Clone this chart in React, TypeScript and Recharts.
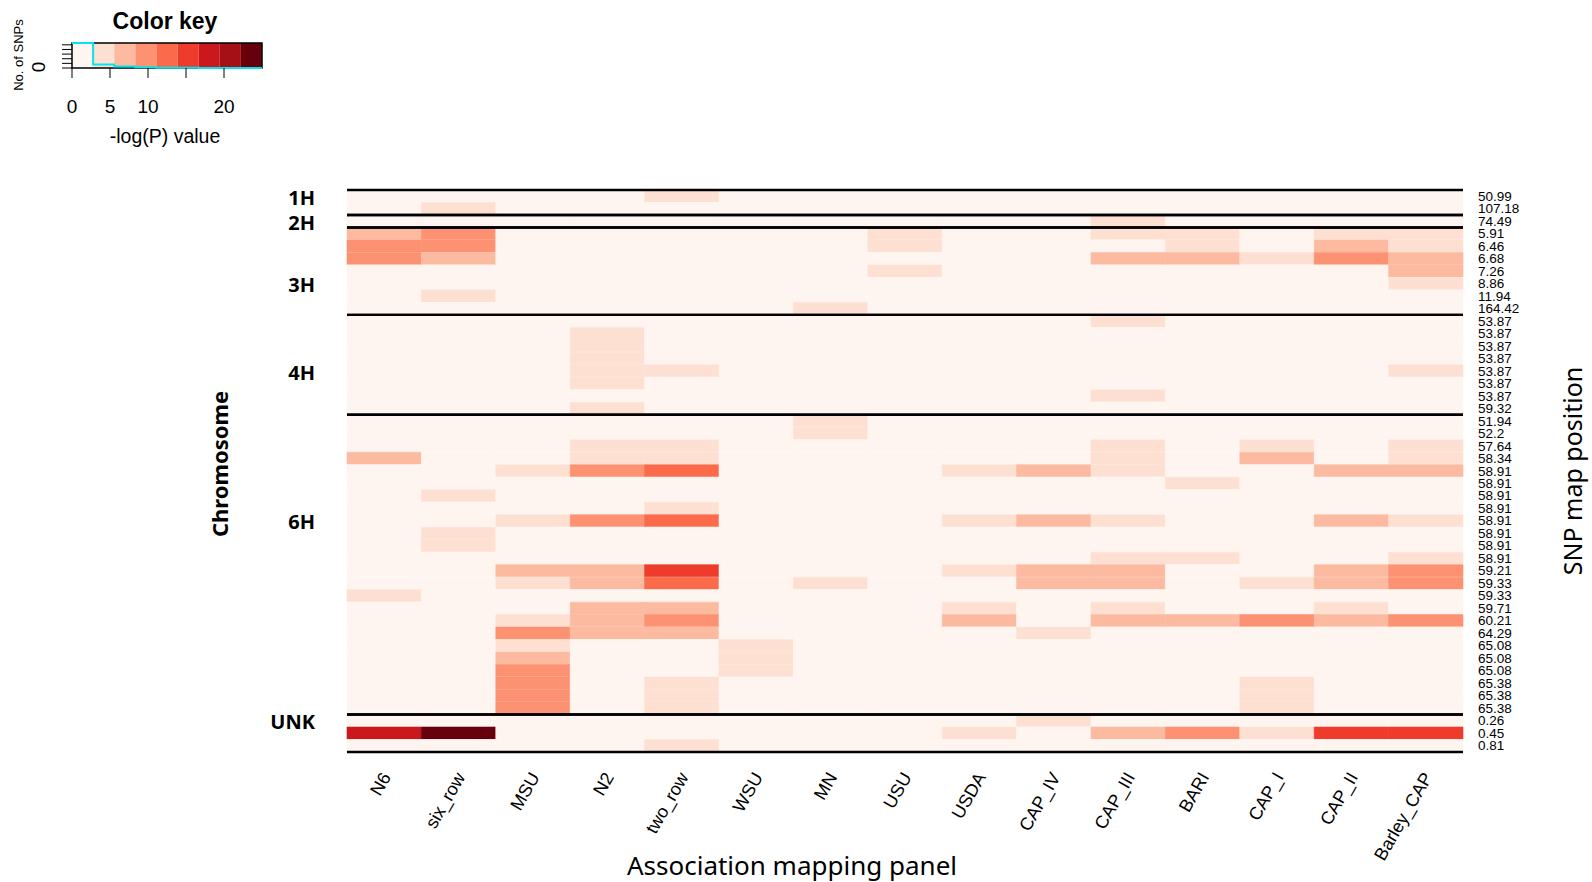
import React from "react";
import { Bar, BarChart, Cell, ComposedChart, Line, ReferenceArea, XAxis, YAxis } from "recharts";

const W = 1592;
const H = 882;

// association mapping panels, left to right
const panelNames = ["N6", "six_row", "MSU", "N2", "two_row", "WSU", "MN", "USU", "USDA", "CAP_IV", "CAP_III", "BARI", "CAP_I", "CAP_II", "Barley_CAP"];

// SNP map positions, top to bottom
const snpPositions = [
  "50.99", "107.18",
  "74.49",
  "5.91", "6.46", "6.68", "7.26", "8.86", "11.94", "164.42",
  "53.87", "53.87", "53.87", "53.87", "53.87", "53.87", "53.87", "59.32",
  "51.94", "52.2", "57.64", "58.34", "58.91", "58.91", "58.91", "58.91", "58.91", "58.91", "58.91", "58.91",
  "59.21", "59.33", "59.33", "59.71", "60.21", "64.29", "65.08", "65.08", "65.08", "65.38", "65.38", "65.38",
  "0.26", "0.45", "0.81",
];

const chromosomes = ["1H", "2H", "3H", "4H", "6H", "UNK"];
const chromosomeSizes = [2, 1, 7, 8, 24, 3];
const chromosomeLabelRows = [0, 2, 7, 14, 26, 42];

// -log(P) per SNP; order: 1H | 2H | 3H | 4H | 6H | UNK
const n6 = [1, 1, 1, 7, 10, 10, 1, 1, 1, 1, 1, 1, 1, 1, 1, 1, 1, 1, 1, 1, 1, 7, 1, 1, 1, 1, 1, 1, 1, 1, 1, 1, 4, 1, 1, 1, 1, 1, 1, 1, 1, 1, 1, 18, 1];
const sixRow = [1, 4, 1, 10, 10, 7, 1, 1, 4, 1, 1, 1, 1, 1, 1, 1, 1, 1, 1, 1, 1, 1, 1, 1, 4, 1, 1, 4, 4, 1, 1, 1, 1, 1, 1, 1, 1, 1, 1, 1, 1, 1, 1, 24, 1];
const msu = [1, 1, 1, 1, 1, 1, 1, 1, 1, 1, 1, 1, 1, 1, 1, 1, 1, 1, 1, 1, 1, 1, 4, 1, 1, 1, 4, 1, 1, 1, 7, 4, 1, 1, 4, 10, 4, 7, 10, 10, 10, 10, 1, 1, 1];
const n2 = [1, 1, 1, 1, 1, 1, 1, 1, 1, 1, 1, 4, 4, 4, 4, 4, 1, 4, 1, 1, 4, 4, 10, 1, 1, 1, 10, 1, 1, 1, 7, 7, 1, 7, 7, 7, 1, 1, 1, 1, 1, 1, 1, 1, 1];
const twoRow = [4, 1, 1, 1, 1, 1, 1, 1, 1, 1, 1, 1, 1, 1, 4, 1, 1, 1, 1, 1, 4, 4, 12, 1, 1, 4, 12, 1, 1, 1, 15, 12, 1, 7, 10, 7, 1, 1, 1, 4, 4, 4, 1, 1, 4];
const wsu = [1, 1, 1, 1, 1, 1, 1, 1, 1, 1, 1, 1, 1, 1, 1, 1, 1, 1, 1, 1, 1, 1, 1, 1, 1, 1, 1, 1, 1, 1, 1, 1, 1, 1, 1, 1, 4, 4, 4, 1, 1, 1, 1, 1, 1];
const mn = [1, 1, 1, 1, 1, 1, 1, 1, 1, 4, 1, 1, 1, 1, 1, 1, 1, 1, 4, 4, 1, 1, 1, 1, 1, 1, 1, 1, 1, 1, 1, 4, 1, 1, 1, 1, 1, 1, 1, 1, 1, 1, 1, 1, 1];
const usu = [1, 1, 1, 4, 4, 1, 4, 1, 1, 1, 1, 1, 1, 1, 1, 1, 1, 1, 1, 1, 1, 1, 1, 1, 1, 1, 1, 1, 1, 1, 1, 1, 1, 1, 1, 1, 1, 1, 1, 1, 1, 1, 1, 1, 1];
const usda = [1, 1, 1, 1, 1, 1, 1, 1, 1, 1, 1, 1, 1, 1, 1, 1, 1, 1, 1, 1, 1, 1, 4, 1, 1, 1, 4, 1, 1, 1, 4, 1, 1, 4, 7, 1, 1, 1, 1, 1, 1, 1, 1, 4, 1];
const capIV = [1, 1, 1, 1, 1, 1, 1, 1, 1, 1, 1, 1, 1, 1, 1, 1, 1, 1, 1, 1, 1, 1, 7, 1, 1, 1, 7, 1, 1, 1, 7, 7, 1, 1, 1, 4, 1, 1, 1, 1, 1, 1, 4, 1, 1];
const capIII = [1, 1, 4, 4, 1, 7, 1, 1, 1, 1, 4, 1, 1, 1, 1, 1, 4, 1, 1, 1, 4, 4, 4, 1, 1, 1, 4, 1, 1, 4, 7, 7, 1, 4, 7, 1, 1, 1, 1, 1, 1, 1, 1, 7, 1];
const bari = [1, 1, 1, 4, 4, 7, 1, 1, 1, 1, 1, 1, 1, 1, 1, 1, 1, 1, 1, 1, 1, 1, 1, 4, 1, 1, 1, 1, 1, 4, 1, 1, 1, 1, 7, 1, 1, 1, 1, 1, 1, 1, 1, 10, 1];
const capI = [1, 1, 1, 1, 1, 4, 1, 1, 1, 1, 1, 1, 1, 1, 1, 1, 1, 1, 1, 1, 4, 7, 1, 1, 1, 1, 1, 1, 1, 1, 1, 4, 1, 1, 10, 1, 1, 1, 1, 4, 4, 4, 1, 4, 1];
const capII = [1, 1, 1, 4, 7, 10, 1, 1, 1, 1, 1, 1, 1, 1, 1, 1, 1, 1, 1, 1, 1, 1, 7, 1, 1, 1, 7, 1, 1, 1, 7, 7, 1, 4, 7, 1, 1, 1, 1, 1, 1, 1, 1, 15, 1];
const barleyCap = [1, 1, 1, 4, 4, 7, 7, 4, 1, 1, 1, 1, 1, 1, 4, 1, 1, 1, 1, 1, 4, 4, 7, 1, 1, 1, 4, 1, 1, 4, 10, 10, 1, 1, 10, 1, 1, 1, 1, 1, 1, 1, 1, 15, 1];

const panelScores = [n6, sixRow, msu, n2, twoRow, wsu, mn, usu, usda, capIV, capIII, bari, capI, capII, barleyCap];

// colour key: RColorBrewer "Reds", 9 bins over 0..25
const reds = ["#FFF5F0", "#FEE0D2", "#FCBBA1", "#FC9272", "#FB6A4A", "#EF3B2C", "#CB181D", "#A50F15", "#67000D"];
const keyBreaks = [0, 2.78, 5.56, 8.33, 11.11, 13.89, 16.67, 19.44, 22.22, 25];
const keyTicks = [0, 5, 10, 15, 20];
const keyTickLabels = ["0", "5", "10", "", "20"];
const countTicks = [0, 100, 200, 300, 400, 500];

const binOf = (v: number) => {
  let i = 0;
  while (i < reds.length - 1 && v >= keyBreaks[i + 1]) i++;
  return i;
};
const colorOf = (v: number) => reds[binOf(v)];

const table = snpPositions.map((_, i) => {
  const row: Record<string, number> = { row: i };
  panelNames.forEach((p) => (row[p] = 1));
  return row;
});

const groups = chromosomeSizes.map((n, i) => {
  const start = chromosomeSizes.slice(0, i).reduce((a, b) => a + b, 0);
  return { start, end: start + n - 1 };
});

const binCounts = reds.map((_, b) => panelScores.reduce((acc, col) => acc + col.filter((v) => binOf(v) === b).length, 0));
const maxCount = Math.max(...binCounts);
const histData = [
  ...binCounts.map((n, i) => ({ x: keyBreaks[i], n })),
  { x: keyBreaks[keyBreaks.length - 1], n: binCounts[binCounts.length - 1] },
];

const ARIAL = "'Liberation Sans', Arial, sans-serif";
const SANS = "'Noto Sans', 'Open Sans', sans-serif";

const PanelTick = (props: any) => {
  const { x, y, payload } = props;
  const name = panelNames[Math.floor(payload.value)];
  const ax = x + 2;
  const ay = y + 14;
  return (
    <text x={ax} y={ay} transform={`rotate(-60 ${ax} ${ay})`} textAnchor="end" dominantBaseline="central" fontSize={18} fontFamily={ARIAL} fill="#000">
      {name}
    </text>
  );
};

const ChromTick = (props: any) => {
  const { x, y, payload } = props;
  const idx = chromosomeLabelRows.indexOf(payload.value);
  if (idx < 0) return null;
  return (
    <text x={x - 24} y={y + 1} textAnchor="end" dominantBaseline="central" fontSize={20} fontWeight={700} fontFamily={SANS} fill="#000">
      {chromosomes[idx]}
    </text>
  );
};

const SnpTick = (props: any) => {
  const { x, y, payload } = props;
  return (
    <text x={x + 7} y={y} textAnchor="start" dominantBaseline="central" fontSize={13.5} fontFamily={ARIAL} fill="#000">
      {snpPositions[payload.value]}
    </text>
  );
};

// chromosome separators: a rule on the top and bottom edge of each group
const GroupRule = (props: any) => {
  const { x, y, width, height } = props;
  return (
    <g>
      <line x1={x} x2={x + width} y1={y} y2={y} stroke="#000" strokeWidth={2.4} />
      <line x1={x} x2={x + width} y1={y + height} y2={y + height} stroke="#000" strokeWidth={2.4} />
    </g>
  );
};

const KeyXTick = (props: any) => {
  const { x, y, payload } = props;
  const label = keyTickLabels[keyTicks.indexOf(payload.value)];
  return (
    <text x={x} y={y + 26} textAnchor="middle" dominantBaseline="central" fontSize={19} fontFamily={ARIAL} fill="#000">
      {label}
    </text>
  );
};

const KeyYTick = (props: any) => {
  const { x, y, payload } = props;
  if (payload.value !== 0) return null;
  const cx = x - 22;
  return (
    <text x={cx} y={y - 1} transform={`rotate(-90 ${cx} ${y - 1})`} textAnchor="middle" dominantBaseline="central" fontSize={19} fontFamily={ARIAL} fill="#000">
      0
    </text>
  );
};

function ColorKey() {
  return (
    <div style={{ position: "absolute", left: 0, top: 0 }}>
      <ComposedChart width={280} height={150} data={histData} margin={{ top: 43, right: 18, bottom: 0, left: 32 }}>
        <XAxis dataKey="x" type="number" domain={[0, 25]} ticks={keyTicks} interval={0} height={82} tickSize={10} axisLine={false} tickLine={{ stroke: "#000" }} tick={<KeyXTick />} />
        <YAxis type="number" domain={[0, maxCount]} ticks={countTicks} interval={0} width={40} tickSize={10} axisLine={false} tickLine={{ stroke: "#000" }} tick={<KeyYTick />} />
        {reds.map((c, i) => (
          <ReferenceArea key={c} x1={keyBreaks[i]} x2={keyBreaks[i + 1]} y1={0} y2={maxCount} fill={c} fillOpacity={1} stroke="none" ifOverflow="visible" />
        ))}
        <ReferenceArea x1={0} x2={25} y1={0} y2={maxCount} fill="none" stroke="#000" strokeWidth={1.5} ifOverflow="visible" />
        <Line dataKey="n" type="stepAfter" stroke="#00E5EE" strokeWidth={2} dot={false} isAnimationActive={false} />
      </ComposedChart>
      <svg width={280} height={150} style={{ position: "absolute", left: 0, top: 0, pointerEvents: "none" }}>
        <text x={165} y={21} textAnchor="middle" dominantBaseline="central" fontSize={23} fontWeight={700} fontFamily={ARIAL}>
          Color key
        </text>
        <text x={165} y={136} textAnchor="middle" dominantBaseline="central" fontSize={19.5} fontFamily={ARIAL}>
          -log(P) value
        </text>
        <text x={18} y={55} transform="rotate(-90 18 55)" textAnchor="middle" dominantBaseline="central" fontSize={13} fontFamily={ARIAL}>
          No. of SNPs
        </text>
      </svg>
    </div>
  );
}

export default function App() {
  return (
    <div style={{ position: "absolute", left: 0, top: 0, width: W, height: H, background: "#fff" }}>
      <div style={{ position: "absolute", left: 0, top: 0 }}>
        <BarChart layout="vertical" width={W} height={H} data={table} margin={{ top: 190, right: 69, bottom: 40, left: 287 }} barCategoryGap={0} barGap={0}>
          <XAxis type="number" domain={[0, 15]} ticks={panelNames.map((_, i) => i + 0.5)} interval={0} height={90} axisLine={false} tickLine={false} tick={<PanelTick />} />
          <YAxis yAxisId="chr" type="category" dataKey="row" orientation="left" width={60} interval={0} axisLine={false} tickLine={false} tick={<ChromTick />} />
          <YAxis yAxisId="snp" type="category" dataKey="row" orientation="right" width={60} interval={0} axisLine={false} tickLine={false} tick={<SnpTick />} />
          {panelNames.map((p, c) => (
            <Bar key={p} yAxisId="snp" dataKey={p} stackId="cells" isAnimationActive={false}>
              {panelScores[c].map((v, r) => (
                <Cell key={r} fill={colorOf(v)} stroke={colorOf(v)} strokeWidth={0.6} />
              ))}
            </Bar>
          ))}
          {groups.map((g, i) => (
            <ReferenceArea key={chromosomes[i]} yAxisId="snp" y1={g.start} y2={g.end} shape={GroupRule} ifOverflow="visible" zIndex={1000} />
          ))}
        </BarChart>
      </div>
      <svg width={W} height={H} style={{ position: "absolute", left: 0, top: 0, pointerEvents: "none" }}>
        <text x={219} y={464} transform="rotate(-90 219 464)" textAnchor="middle" dominantBaseline="central" fontSize={22} fontWeight={700} fontFamily={SANS}>
          Chromosome
        </text>
        <text x={1572} y={471} transform="rotate(-90 1572 471)" textAnchor="middle" dominantBaseline="central" fontSize={25} fontFamily={SANS}>
          SNP map position
        </text>
        <text x={792} y={865} textAnchor="middle" dominantBaseline="central" fontSize={26} fontFamily={SANS}>
          Association mapping panel
        </text>
      </svg>
      <ColorKey />
    </div>
  );
}
